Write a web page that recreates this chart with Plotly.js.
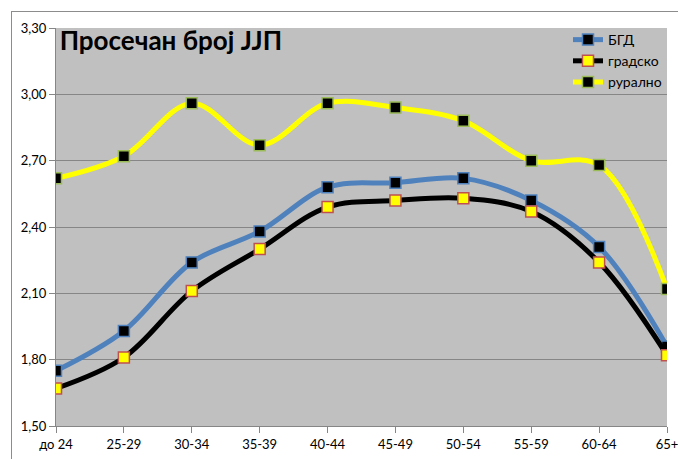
<!DOCTYPE html>
<html>
<head>
<meta charset="utf-8">
<script src="https://cdn.plot.ly/plotly-3.0.1.min.js"></script>
<style>
html,body{margin:0;padding:0;background:#fff;overflow:hidden;}
#wrap{position:relative;width:678px;height:459px;}
#chart{width:678px;height:459px;}
#frame{position:absolute;left:11px;top:11px;width:700px;height:500px;border-left:1px solid #8c8c8c;border-top:1px solid #8c8c8c;pointer-events:none;}
</style>
</head>
<body>
<div id="wrap"><div id="chart"></div><div id="frame"></div></div>
<script>
const categories = ['до 24','25-29','30-34','35-39','40-44','45-49','50-54','55-59','60-64','65+'];
const bgd      = [1.75, 1.93, 2.24, 2.38, 2.58, 2.60, 2.62, 2.52, 2.31, 1.86];
const gradsko  = [1.67, 1.81, 2.11, 2.30, 2.49, 2.52, 2.53, 2.47, 2.24, 1.82];
const ruralno  = [2.62, 2.72, 2.96, 2.77, 2.96, 2.94, 2.88, 2.70, 2.68, 2.12];
const yTicks = [1.5, 1.8, 2.1, 2.4, 2.7, 3.0, 3.3];

const mk = (name, y, lineColor, fill, border) => ({
  type: 'scatter', mode: 'lines+markers', name: name,
  x: categories, y: y,
  line: {color: lineColor, width: 5, shape: 'spline', smoothing: 1},
  marker: {symbol: 'square', size: 11, color: fill, line: {color: border, width: 1.5}}
});

const data = [
  mk('БГД', bgd, '#4F81BD', '#000000', '#4F81BD'),
  mk('градско', gradsko, '#000000', '#FFFF00', '#C0504D'),
  mk('рурално', ruralno, '#FFFF00', '#000000', '#9BBB59')
];

const font = 'Lato, "Open Sans", sans-serif';
const layout = {
  width: 678, height: 459,
  margin: {l: 56, r: 11, t: 28, b: 33, pad: 0},
  paper_bgcolor: '#ffffff',
  plot_bgcolor: '#C0C0C0',
  separators: ',.',
  font: {family: font, size: 13, color: '#000'},
  title: {
    text: '<b>Просечан број ЈЈП</b>',
    font: {family: font, size: 26, color: '#000'},
    xref: 'paper', yref: 'paper', x: 0.006, xanchor: 'left', y: 0.99, yanchor: 'top'
  },
  showlegend: true,
  legend: {
    x: 1.0, xanchor: 'right', y: 1.01, yanchor: 'top',
    bgcolor: 'rgba(0,0,0,0)', borderwidth: 0,
    font: {family: font, size: 14, color: '#000'},
    itemwidth: 30, tracegroupgap: 0
  },
  xaxis: {
    type: 'category', range: [0, categories.length - 1],
    showgrid: false, zeroline: false,
    showline: true, linecolor: '#868686', linewidth: 1,
    ticks: 'outside', ticklen: 6, tickcolor: '#868686',
    tickfont: {family: font, size: 13, color: '#000'},
    fixedrange: true
  },
  yaxis: {
    range: [1.5, 3.3], tickvals: yTicks, tickformat: '.2f',
    showgrid: true, gridcolor: '#868686', gridwidth: 1,
    zeroline: false,
    showline: true, linecolor: '#868686', linewidth: 1,
    ticks: 'outside', ticklen: 6, tickcolor: '#868686',
    tickfont: {family: font, size: 13, color: '#000'},
    fixedrange: true
  }
};

Plotly.newPlot('chart', data, layout, {displayModeBar: false, staticPlot: true});
</script>
</body>
</html>
